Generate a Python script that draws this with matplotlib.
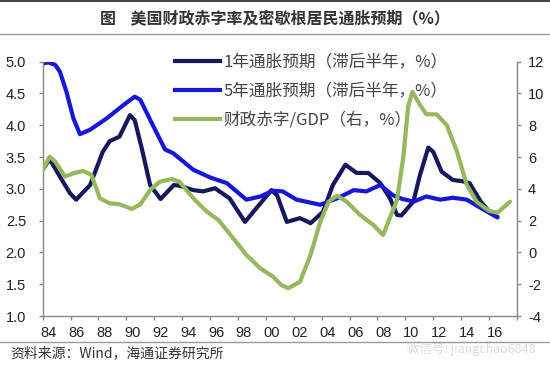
import matplotlib
matplotlib.use("Agg")
import matplotlib.pyplot as plt
from matplotlib.lines import Line2D

CJK = ["Noto Sans CJK SC", "DejaVu Sans"]
NUM = ["Liberation Sans", "DejaVu Sans"]

# 1-year inflation expectation (lagged half a year), left axis
yr_1y = [1984.0, 1984.5, 1985.24, 1985.96, 1986.4, 1987.4, 1988.3, 1988.8, 1989.5,
         1990.26, 1990.6, 1991.1, 1991.7, 1992.45, 1993.4, 1993.8, 1994.8, 1995.5,
         1996.35, 1997.4, 1998.5, 1999.6, 2000.4, 2000.8, 2001.5, 2002.45, 2003.2,
         2004.1, 2004.8, 2005.7, 2006.5, 2007.34, 2008.2, 2008.9, 2009.4, 2009.7,
         2010.57, 2011.05, 2011.64, 2012.0, 2012.6, 2013.4, 2014.1, 2014.6, 2015.4,
         2016.1, 2016.6]
exp_1y = [3.30, 3.47, 3.19, 2.93, 2.83, 3.06, 3.58, 3.75, 3.82,
          4.16, 4.08, 3.64, 3.06, 2.84, 3.06, 3.05, 2.98, 2.96,
          3.01, 2.85, 2.48, 2.77, 2.98, 2.90, 2.48, 2.54, 2.46,
          2.64, 3.06, 3.38, 3.25, 3.25, 3.09, 2.85, 2.59, 2.58,
          2.80, 3.22, 3.65, 3.58, 3.27, 3.14, 3.12, 3.09, 2.80,
          2.62, 2.56]

# 5-year inflation expectation (lagged half a year), left axis
yr_5y = [1984.0, 1984.4, 1984.9, 1985.24, 1985.7, 1986.2, 1986.67, 1987.4, 1988.6,
         1989.8, 1990.6, 1991.0, 1991.9, 1992.77, 1993.36, 1994.8, 1996.0, 1997.2,
         1998.6, 1999.6, 2000.5, 2001.2, 2002.2, 2003.9, 2005.1, 2006.3, 2007.2,
         2008.2, 2009.1, 2009.8, 2010.6, 2011.5, 2012.5, 2013.4, 2014.4, 2015.4,
         2016.6]
exp_5y = [4.97, 4.99, 4.95, 4.84, 4.53, 4.11, 3.86, 3.93, 4.11,
          4.32, 4.45, 4.40, 4.00, 3.62, 3.56, 3.30, 3.18, 3.09,
          2.83, 2.88, 2.97, 2.96, 2.83, 2.75, 2.85, 2.98, 2.96,
          3.06, 2.90, 2.84, 2.80, 2.88, 2.83, 2.86, 2.83, 2.70,
          2.55]

# fiscal deficit / GDP, right axis
yr_def = [1984.0, 1984.5, 1984.9, 1985.6, 1986.2, 1986.9, 1987.5, 1988.1, 1988.8,
          1989.5, 1990.4, 1991.0, 1991.7, 1992.4, 1993.25, 1993.8, 1994.8, 1995.76,
          1996.6, 1997.66, 1998.6, 1999.6, 2000.5, 2001.1, 2001.6, 2002.45, 2003.2,
          2003.9, 2004.5, 2005.1, 2005.8, 2006.75, 2007.7, 2008.4, 2009.4, 2009.85,
          2010.2, 2010.5, 2011.05, 2011.5, 2012.24, 2012.96, 2013.7, 2014.4, 2015.1,
          2016.0, 2016.6, 2017.5]
deficit = [5.19, 6.03, 5.71, 4.77, 4.98, 5.13, 4.87, 3.41, 3.09,
           3.03, 2.74, 3.03, 3.93, 4.45, 4.62, 4.45, 3.41, 2.57,
           2.04, 0.89, -0.16, -1.00, -1.52, -2.05, -2.25, -1.84, -0.16,
           1.94, 3.19, 3.57, 3.19, 2.36, 1.73, 1.10, 3.30, 6.00,
           9.20, 10.10, 9.28, 8.69, 8.69, 8.02, 6.34, 4.25, 3.19,
           2.61, 2.50, 3.19]

labels = ["1年通胀预期（滞后半年，%）", "5年通胀预期（滞后半年，%）", "财政赤字/GDP（右，%）"]
colors = ["#16175e", "#1717d8", "#95b85c"]

left_ticks = [1.0, 1.5, 2.0, 2.5, 3.0, 3.5, 4.0, 4.5, 5.0]
right_ticks = [-4, -2, 0, 2, 4, 6, 8, 10, 12]
x_ticks = list(range(1984, 2019, 2))
x_labels = [f"{y % 100:02d}" for y in range(1984, 2017, 2)]

fig = plt.figure(figsize=(5.5, 3.68), dpi=100)
ax = fig.add_axes([0.0776, 0.1413, 0.8624, 0.691])
ax2 = ax.twinx()

lw = 3.0
ax.plot(yr_1y, exp_1y, color=colors[0], lw=lw, solid_joinstyle="round", solid_capstyle="round")
ax.plot(yr_5y, exp_5y, color=colors[1], lw=lw, solid_joinstyle="round", solid_capstyle="round")
ax2.plot(yr_def, deficit, color=colors[2], lw=lw, solid_joinstyle="round", solid_capstyle="round")

ax.set_xlim(1984, 2018)
ax.set_ylim(1.0, 5.0)
ax2.set_ylim(-4, 12)
ax.set_yticks(left_ticks)
ax.set_yticklabels([f"{v:.1f}" for v in left_ticks], fontfamily=NUM, fontsize=10.5, color="#222222")
ax2.set_yticks(right_ticks)
ax2.set_yticklabels([str(v) for v in right_ticks], fontfamily=NUM, fontsize=10.5, color="#222222")

# tick marks on the even years, labels sit a little to the right of them
ax.set_xticks(x_ticks)
ax.set_xticklabels([])
ax.set_xticks([y + 0.43 for y in range(1984, 2017, 2)], minor=True)
ax.set_xticklabels(x_labels, minor=True, fontfamily=NUM, fontsize=10.5, color="#222222")

for a in (ax, ax2):
    for s in a.spines.values():
        s.set_color("#888888")
        s.set_linewidth(1.0)
    a.spines["top"].set_visible(False)
ax.spines["right"].set_visible(False)
ax2.spines["left"].set_visible(False)
ax2.spines["bottom"].set_visible(False)
ax.tick_params(axis="y", direction="out", length=3, width=1, color="#888888", pad=9)
ax.tick_params(axis="x", which="major", direction="out", length=3, width=1, color="#888888")
ax.tick_params(axis="x", which="minor", length=0, pad=7)
ax2.tick_params(axis="y", direction="out", length=3, width=1, color="#888888", pad=5)

handles = [Line2D([], [], color=c, lw=lw) for c in colors]
ax2.legend(handles, labels, loc="upper left", bbox_to_anchor=(0.318, 0.855),
           bbox_transform=fig.transFigure, frameon=False, borderpad=0, borderaxespad=0,
           handlelength=2.7, handletextpad=0.2, labelspacing=0.72,
           prop={"family": CJK, "size": 12}, labelcolor="#444444")

fig.text(0.5, 0.951, "图    美国财政赤字率及密歇根居民通胀预期（%）", ha="center", va="center",
         fontfamily=CJK, fontsize=11.5, fontweight="bold", color="#333333")
fig.text(0.018, 0.041, "资料来源：Wind，海通证券研究所", ha="left", va="center",
         fontfamily=CJK, fontsize=10, color="#333333")
fig.text(0.74, 0.052, "微信号: jiangchao6848", ha="left", va="center",
         fontfamily=CJK, fontsize=9, color="#cccccc", alpha=0.7)

fig.add_artist(Line2D([0, 1], [0.997, 0.997], transform=fig.transFigure, color="#444444", lw=1.5))
fig.add_artist(Line2D([0, 1], [0.908, 0.908], transform=fig.transFigure, color="#999999", lw=1.0))
fig.add_artist(Line2D([0, 1], [0.072, 0.072], transform=fig.transFigure, color="#999999", lw=1.0))

fig.savefig("out.png", dpi=100)
